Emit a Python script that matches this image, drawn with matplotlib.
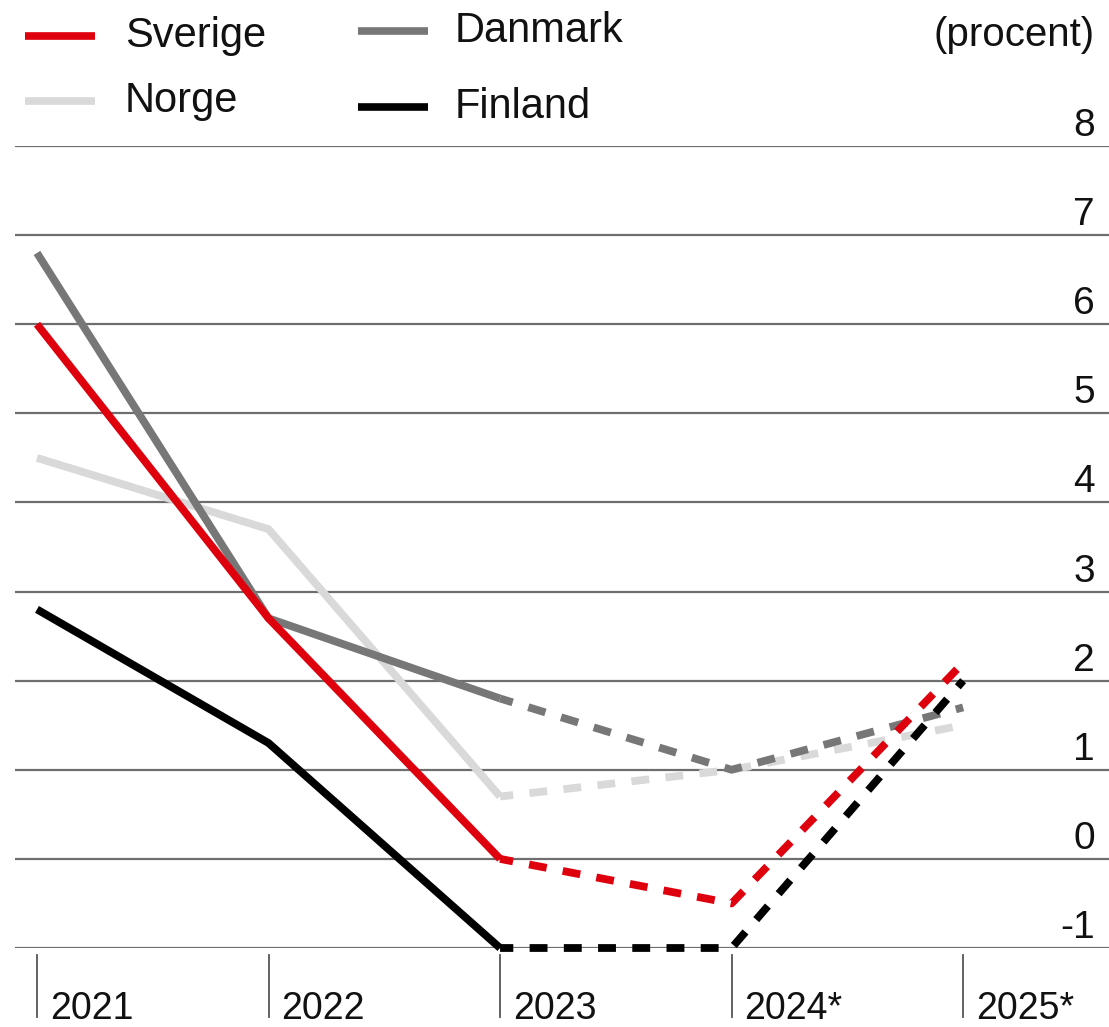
import numpy as np
import matplotlib
matplotlib.use("Agg")
import matplotlib.pyplot as plt
import matplotlib.transforms as mtransforms

plt.rcParams['font.family'] = ['Liberation Sans', 'DejaVu Sans']

years = ["2021", "2022", "2023", "2024*", "2025*"]
sverige = [6.0, 2.7, 0.0, -0.5, 2.2]
danmark = [6.8, 2.7, 1.8, 1.0, 1.7]
norge = [4.5, 3.7, 0.7, 1.0, 1.5]
finland = [2.8, 1.3, -1.0, -1.0, 2.0]
yticks = [-1, 0, 1, 2, 3, 4, 5, 6, 7, 8]

series = [
    ("Norge", norge, "#d9d9d9"),
    ("Danmark", danmark, "#777777"),
    ("Sverige", sverige, "#df000e"),
    ("Finland", finland, "#000000"),
]

W, H = 1109, 1027
fig = plt.figure(figsize=(W / 100, H / 100), dpi=100)
ax = fig.add_axes([15 / W, (H - 948) / H, 1094 / W, (948 - 146) / H])
ax.set_xlim(-0.095, 4.63)
ax.set_ylim(-1, 8)
ax.axis("off")

# grid lines
for v in yticks:
    ax.axhline(v, color="#6e6e6e", lw=1.6, zorder=1)

x = np.arange(len(years))
lw = 5.6
for name, vals, col in series:
    ax.plot(x[:3], vals[:3], color=col, lw=lw, solid_capstyle="butt",
            solid_joinstyle="miter", zorder=3, clip_on=False)
    ax.plot(x[2:], vals[2:], color=col, lw=lw, linestyle=(0.6, (2.3, 2.1)),
            dash_capstyle="butt", zorder=3, clip_on=False)

# y labels on the right, above each grid line
ytr = mtransforms.blended_transform_factory(fig.transFigure, ax.transData)
ytr = ytr + mtransforms.ScaledTranslation(0, 0.10, fig.dpi_scale_trans)
for v in yticks:
    ax.text(1095 / W, v, str(v), transform=ytr, ha="right", va="baseline",
            fontsize=28, color="#111111")

fig.text(1095 / W, 1 - 35 / H, "(procent)", ha="right", va="center",
         fontsize=29, color="#111111")

# year ticks and labels below axis
xtr = mtransforms.blended_transform_factory(ax.transData, fig.transFigure)
for i, lab in enumerate(years):
    ax.plot([i, i], [1 - 955 / H, 1 - 1017 / H], transform=xtr, color="#555555",
            lw=1.3, clip_on=False)
    ax.text(i + 0.055, 1 - 1019 / H, lab, transform=xtr, ha="left",
            va="baseline", fontsize=27, color="#111111")

# legend drawn by hand
leg = [
    ("Sverige", "#df000e", 25, 95, 125, 36),
    ("Norge", "#d9d9d9", 25, 95, 125, 101),
    ("Danmark", "#777777", 358, 428, 455, 31),
    ("Finland", "#000000", 358, 428, 455, 107),
]
for name, col, x0, x1, tx, yy in leg:
    fig.add_artist(plt.Line2D([x0 / W, x1 / W], [1 - yy / H, 1 - yy / H],
                              color=col, lw=5.5, solid_capstyle="butt"))
    fig.text(tx / W, 1 - yy / H, name, ha="left", va="center",
             fontsize=30, color="#111111")

fig.savefig("out.png", dpi=100)
